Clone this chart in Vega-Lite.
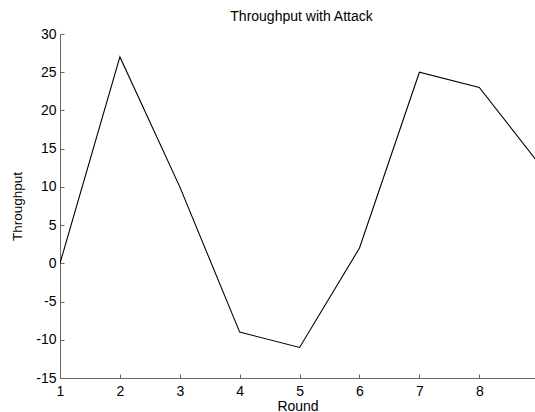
{
  "$schema": "https://vega.github.io/schema/vega-lite/v6.json",
  "width": 475,
  "height": 344,
  "autosize": "none",
  "padding": {"left": 60, "top": 34, "right": 0, "bottom": 34},
  "background": "white",
  "title": {"text": "Throughput with Attack", "fontSize": 14, "fontWeight": "normal", "font": "Liberation Sans", "color": "black", "offset": 3, "dx": 4},
  "data": {"values": [
    {"Round": 1, "Throughput": 0},
    {"Round": 2, "Throughput": 27},
    {"Round": 3, "Throughput": 10},
    {"Round": 4, "Throughput": -9},
    {"Round": 5, "Throughput": -11},
    {"Round": 6, "Throughput": 2},
    {"Round": 7, "Throughput": 25},
    {"Round": 8, "Throughput": 23},
    {"Round": 9, "Throughput": 13}
  ]},
  "mark": {"type": "line", "color": "black", "strokeWidth": 1.1, "clip": true},
  "encoding": {
    "x": {"field": "Round", "type": "quantitative",
      "scale": {"domain": [1, 8.93], "nice": false, "zero": false},
      "axis": {"values": [1,2,3,4,5,6,7,8], "title": "Round", "grid": false, "tickSize": -4, "labelPadding": 10, "titlePadding": 1, "labelFontSize": 14, "titleFontSize": 14, "titleFontWeight": "normal", "labelFont": "Liberation Sans", "titleFont": "Liberation Sans", "labelColor": "black", "titleColor": "black", "domainColor": "#666", "tickColor": "#666", "labelFlush": false}},
    "y": {"field": "Throughput", "type": "quantitative",
      "scale": {"domain": [-15, 30], "nice": false, "zero": false},
      "axis": {"values": [-15,-10,-5,0,5,10,15,20,25,30], "title": "Throughput", "grid": false, "tickSize": -4, "labelPadding": 8, "titlePadding": 11, "labelFontSize": 14, "titleFontSize": 13.5, "titleFontWeight": "normal", "labelFont": "Liberation Sans", "titleFont": "Liberation Sans", "labelColor": "black", "titleColor": "black", "domainColor": "#666", "tickColor": "#666", "labelFlush": false, "labelExpr": "replace(datum.label, '\u2212', '-')"}}
  },
  "config": {"view": {"stroke": null}}
}
